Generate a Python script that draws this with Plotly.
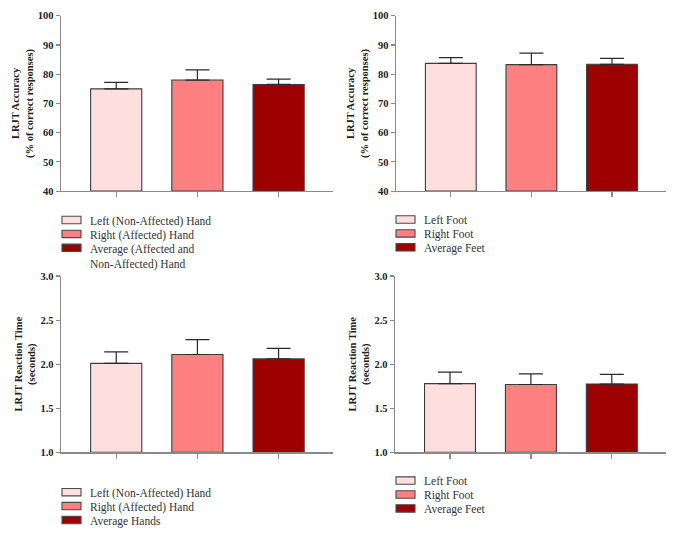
import plotly.graph_objects as go

W, H = 674, 539

# ---------------- data ----------------
categories = ["Left", "Right", "Average"]

acc_hand = [75.0, 78.0, 76.5]
acc_hand_err = [2.2, 3.5, 1.8]
acc_foot = [83.7, 83.3, 83.4]
acc_foot_err = [2.0, 3.9, 2.0]
rt_hand = [2.01, 2.11, 2.06]
rt_hand_err = [0.13, 0.17, 0.12]
rt_foot = [1.78, 1.77, 1.775]
rt_foot_err = [0.13, 0.12, 0.11]

legend_tl = ["Left (Non-Affected) Hand", "Right (Affected) Hand",
             "Average (Affected and<br>Non-Affected) Hand"]
legend_tr = ["Left Foot", "Right Foot", "Average Feet"]
legend_bl = ["Left (Non-Affected) Hand", "Right (Affected) Hand", "Average Hands"]
legend_br = ["Left Foot", "Right Foot", "Average Feet"]

acc_ticks = [40, 50, 60, 70, 80, 90, 100]
rt_ticks = [1.0, 1.5, 2.0, 2.5, 3.0]

bar_colors = ["#FFDEDE", "#FF8080", "#9E0000"]
edge_color = "#3c3c3c"
axis_color = "#8a8a8a"
SERIF = "Liberation Serif"


def px_x(p):
    return p / W


def px_y(p):
    return 1 - p / H


panels = [
    (acc_hand, acc_hand_err, legend_tl, acc_ticks, "LRJT Accuracy<br>(% of correct responses)",
     (61, 333), (190, 11), (62, 215.7)),
    (acc_foot, acc_foot_err, legend_tr, acc_ticks, "LRJT Accuracy<br>(% of correct responses)",
     (396, 666), (190, 11), (396, 215.2)),
    (rt_hand, rt_hand_err, legend_bl, rt_ticks, "LRJT Reaction Time<br>(seconds)",
     (61, 333), (456.7, 276.7), (62, 493.5)),
    (rt_foot, rt_foot_err, legend_br, rt_ticks, "LRJT Reaction Time<br>(seconds)",
     (395, 666), (456.7, 276.7), (396, 481.7)),
]

fig = go.Figure()
shapes = []
annotations = []

for i, (vals, errs, labels, ticks, title, xd, yd, lo) in enumerate(panels):
    n = "" if i == 0 else str(i + 1)
    xa, ya = "x" + n, "y" + n
    base = ticks[0]
    for k in range(3):
        fig.add_trace(go.Bar(
            x=[categories[k]], y=[vals[k] - base],
            xaxis=xa, yaxis=ya,
            width=0.63,
            base=base,
            marker=dict(color=bar_colors[k], line=dict(color=edge_color, width=1.1)),
            error_y=dict(type="data", symmetric=False, array=[errs[k]], arrayminus=[0],
                         color="#2a2a2a", thickness=1.2, width=12),
            showlegend=False, hoverinfo="skip",
        ))

    fig.layout["xaxis" + n] = dict(
        domain=[px_x(xd[0]), px_x(xd[1])], anchor=ya,
        type="category", categoryorder="array", categoryarray=categories,
        range=[-0.68, 2.67],
        showline=True, linecolor=axis_color, linewidth=1.3,
        ticks="outside", ticklen=5, tickcolor=axis_color, tickwidth=1.2,
        showticklabels=False, showgrid=False, zeroline=False, fixedrange=True,
    )
    fig.layout["yaxis" + n] = dict(
        domain=[px_y(yd[0]), px_y(yd[1])], anchor=xa,
        range=[ticks[0], ticks[-1]],
        tickvals=ticks,
        tickformat=".0f" if ticks[-1] > 10 else ".1f",
        showline=True, linecolor=axis_color, linewidth=1.3,
        ticks="outside", ticklen=4, tickcolor=axis_color, tickwidth=1.2,
        tickfont=dict(family=SERIF, size=10.5, color="#222", weight="bold"),
        showgrid=False, zeroline=False, fixedrange=True,
        title=dict(text=title, standoff=2,
                   font=dict(family=SERIF, size=10.5, color="#222", weight="bold")),
    )

    sx0, sy0 = lo
    step = 14.2
    sw, sh = 19, 7.6
    for k in range(3):
        top = sy0 + k * step
        shapes.append(dict(
            type="rect", xref="paper", yref="paper",
            x0=px_x(sx0), x1=px_x(sx0 + sw), y0=px_y(top + sh), y1=px_y(top),
            fillcolor=bar_colors[k], line=dict(color="#4a4a4a", width=1.1),
        ))
        annotations.append(dict(
            xref="paper", yref="paper",
            x=px_x(sx0 + 26), y=px_y(top - 3.6),
            xanchor="left", yanchor="top", align="left",
            text=labels[k], showarrow=False,
            font=dict(family=SERIF, size=11.5, color="#333"),
        ))

fig.update_layout(
    width=W, height=H,
    margin=dict(l=0, r=0, t=0, b=0),
    paper_bgcolor="white", plot_bgcolor="white",
    barmode="overlay",
    showlegend=False,
    shapes=shapes, annotations=annotations,
)

fig.write_html("out.html",
               config={"displayModeBar": False, "staticPlot": True},
               post_script="document.body.style.margin='0';document.body.style.overflow='hidden';")
